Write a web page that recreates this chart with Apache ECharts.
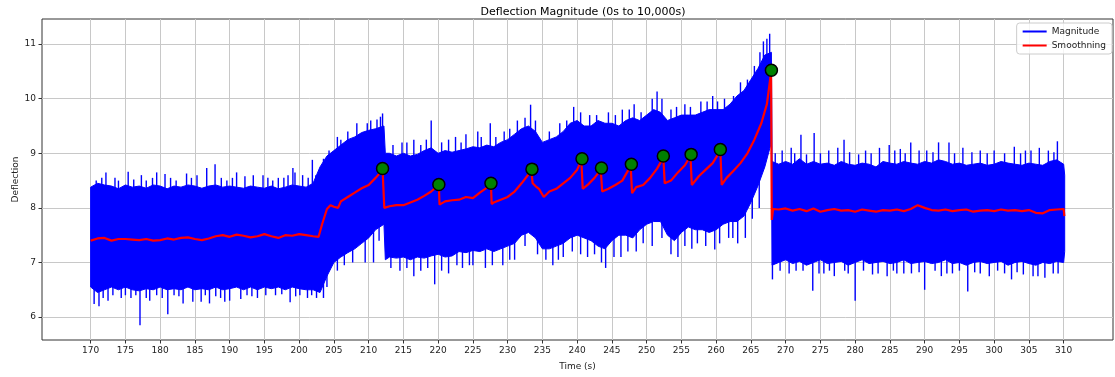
<!DOCTYPE html>
<html>
<head>
<meta charset="utf-8">
<title>Deflection Magnitude</title>
<script src="https://cdn.jsdelivr.net/npm/echarts@6/dist/echarts.min.js"></script>
<style>
  html, body { margin: 0; padding: 0; background: #fff; }
  #main { width: 1115px; height: 377px; }
</style>
</head>
<body>
<div id="main"></div>
<script>
// envelope of the raw magnitude signal (s / upper / lower)
var bandT = [170, 171, 172, 173, 174, 175, 176, 177, 178, 179, 180, 181, 182, 183, 184, 185, 186, 187, 188, 189,
  190, 191, 192, 193, 194, 195, 196, 197, 198, 199, 200, 201, 202, 203, 204, 205, 206, 207, 208, 209,
  210, 211, 212.2, 212.4, 213, 214, 215, 216, 217, 218, 219, 220, 221, 222, 223, 224, 225, 226, 227, 228,
  229, 230, 231, 232, 233, 234, 235, 236, 237, 238, 239, 240, 241, 242, 243, 244, 245, 246, 247, 248,
  249, 250, 251, 252, 253, 254, 255, 256, 257, 258, 259, 260, 261, 262, 263, 264, 265, 266, 267, 267.95,
  268.05, 269, 270, 271, 272, 273, 274, 275, 276, 277, 278, 279, 280, 281, 282, 283, 284, 285, 286, 287,
  288, 289, 290, 291, 292, 293, 294, 295, 296, 297, 298, 299, 300, 301, 302, 303, 304, 305, 306, 307,
  308, 309, 310, 310.15];
var bandHigh = [8.38, 8.45, 8.42, 8.40, 8.35, 8.42, 8.38, 8.40, 8.36, 8.42, 8.40, 8.35, 8.40, 8.38, 8.42, 8.40, 8.36, 8.40, 8.42, 8.38,
  8.40, 8.38, 8.36, 8.40, 8.38, 8.36, 8.40, 8.35, 8.38, 8.42, 8.40, 8.38, 8.45, 8.75, 8.95, 9.05, 9.15, 9.25, 9.30, 9.38,
  9.42, 9.45, 9.50, 9.00, 9.00, 8.95, 9.00, 8.95, 8.98, 9.05, 9.10, 9.00, 9.05, 9.02, 9.05, 9.08, 9.12, 9.10, 9.15, 9.12,
  9.20, 9.25, 9.35, 9.45, 9.50, 9.40, 9.20, 9.25, 9.30, 9.40, 9.55, 9.60, 9.50, 9.50, 9.60, 9.55, 9.55, 9.50, 9.60, 9.65,
  9.60, 9.70, 9.80, 9.75, 9.60, 9.65, 9.70, 9.70, 9.70, 9.75, 9.80, 9.80, 9.80, 9.90, 10.05, 10.15, 10.35, 10.55, 10.80, 10.85,
  8.85, 8.80, 8.85, 8.80, 8.90, 8.80, 8.85, 8.80, 8.82, 8.78, 8.85, 8.80, 8.78, 8.82, 8.80, 8.75, 8.85, 8.82, 8.80, 8.85,
  8.82, 8.80, 8.85, 8.82, 8.88, 8.85, 8.80, 8.82, 8.78, 8.80, 8.82, 8.78, 8.80, 8.85, 8.82, 8.80, 8.78, 8.82, 8.80, 8.78,
  8.85, 8.88, 8.80, 8.60];
var bandLow = [6.55, 6.45, 6.50, 6.55, 6.50, 6.55, 6.50, 6.48, 6.52, 6.50, 6.55, 6.50, 6.52, 6.50, 6.55, 6.50, 6.52, 6.50, 6.55, 6.50,
  6.52, 6.55, 6.50, 6.55, 6.50, 6.55, 6.52, 6.55, 6.50, 6.55, 6.52, 6.50, 6.50, 6.45, 6.75, 7.00, 7.10, 7.18, 7.25, 7.35,
  7.45, 7.60, 7.70, 7.05, 7.10, 7.08, 7.10, 7.05, 7.10, 7.08, 7.12, 7.15, 7.10, 7.12, 7.20, 7.18, 7.22, 7.20, 7.25, 7.20,
  7.25, 7.30, 7.35, 7.50, 7.55, 7.45, 7.25, 7.25, 7.30, 7.35, 7.45, 7.50, 7.45, 7.40, 7.30, 7.25, 7.40, 7.50, 7.50, 7.45,
  7.60, 7.70, 7.75, 7.75, 7.50, 7.40, 7.55, 7.65, 7.60, 7.60, 7.55, 7.60, 7.70, 7.75, 7.75, 7.85, 8.10, 8.40, 8.75, 9.20,
  6.95, 7.00, 7.05, 6.98, 7.02, 6.95, 7.00, 7.05, 6.98, 7.00, 7.02, 6.95, 7.00, 7.05, 6.98, 7.00, 7.02, 6.98, 7.00, 7.05,
  6.98, 7.00, 7.02, 6.98, 7.00, 7.05, 6.98, 7.00, 6.95, 7.00, 7.02, 6.98, 7.00, 7.02, 6.95, 7.00, 7.02, 6.98, 6.95, 7.00,
  6.98, 7.02, 7.00, 7.20];

// individual excursions of the raw signal above / below the envelope [time, value]
var spikesUp = [[170.8, 8.5], [171.6, 8.55], [172.2, 8.65], [173.5, 8.55], [174, 8.5], [175.4, 8.66], [176.2, 8.52],
  [177.3, 8.6], [178, 8.5], [178.9, 8.55], [179.5, 8.65], [180.7, 8.62], [181.5, 8.55], [182.3, 8.5], [183.8, 8.63],
  [184.5, 8.55], [185.3, 8.6], [186.7, 8.73], [187.9, 8.8], [188.8, 8.55], [189.6, 8.5], [190.4, 8.55], [191, 8.65],
  [192.2, 8.58], [193.4, 8.6], [194.8, 8.6], [195.5, 8.55], [196.2, 8.5], [197, 8.55], [197.8, 8.55], [198.4, 8.6],
  [199.1, 8.73], [199.4, 8.65], [200.5, 8.6], [201.3, 8.55], [201.9, 8.88], [202.4, 8.6],
  [203.5, 8.9], [204.3, 9.05], [205.5, 9.3], [206, 9.25], [207, 9.4], [208.3, 9.55], [209.8, 9.55], [210.3, 9.6],
  [211.2, 9.62], [211.7, 9.67], [212.0, 9.73], [213.5, 9.15], [214.8, 9.2], [215.5, 9.2], [216.5, 9.25], [217.5, 9.15],
  [218.3, 9.25], [219, 9.6], [220.5, 9.2], [221.5, 9.25], [222.5, 9.3], [223.3, 9.2], [224, 9.35], [225.7, 9.4],
  [226.2, 9.3], [227.5, 9.55], [228.3, 9.3], [229.5, 9.4], [230.3, 9.45], [231.4, 9.6], [232.5, 9.65], [233.3, 9.89],
  [234, 9.6], [236, 9.4], [237.5, 9.55], [238.5, 9.6], [239.5, 9.85], [240.5, 9.75], [241.8, 9.7], [242.8, 9.7],
  [244.5, 9.75], [245.5, 9.7], [246.5, 9.8], [247.5, 9.8], [248.2, 9.9], [249.2, 9.75], [250.8, 10.0], [251.5, 10.13],
  [252.2, 10.0], [253.5, 9.8], [254.3, 9.85], [255.5, 9.9], [256.3, 9.85], [257.8, 9.95], [258.7, 9.95], [259.5, 10.05],
  [260.2, 9.95], [261.2, 10.0], [262.5, 10.05], [263.5, 10.3], [264.5, 10.35], [265.5, 10.6], [266.3, 10.85],
  [266.8, 11.05], [267.3, 11.1], [267.7, 11.19],
  [268.5, 9.0], [269.5, 9.05], [270.8, 9.1], [271.3, 9.0], [272.2, 9.34], [273, 8.98], [274.1, 9.37], [275, 9.0],
  [276.2, 9.05], [277.5, 9.1], [278.4, 9.25], [279.2, 9.02], [280.5, 8.98], [281.5, 9.05], [282.3, 9.0], [283.5, 9.1],
  [284.9, 9.15], [285.7, 9.05], [286.5, 9.08], [287.2, 9.0], [288, 9.2], [289.2, 9.05], [290.3, 9.05], [291.2, 9.02],
  [292, 9.2], [293.5, 9.2], [294.3, 9.0], [295.5, 9.1], [296.8, 9.02], [298, 9.05], [299, 9.0], [300, 9.05],
  [301.5, 9.0], [302.9, 9.12], [303.8, 9.0], [304.5, 9.05], [305.3, 9.05], [306.5, 9.1], [307.8, 9.05], [308.6, 9.02],
  [309.1, 9.22]];
var spikesDown = [[170.5, 6.24], [171.2, 6.2], [171.8, 6.35], [172.5, 6.3], [173.2, 6.4], [174.4, 6.35], [175, 6.4],
  [175.8, 6.35], [176.5, 6.4], [177.1, 5.85], [178, 6.35], [178.5, 6.3], [179.5, 6.4], [180.3, 6.35], [181.1, 6.05],
  [182, 6.4], [182.7, 6.38], [183.3, 6.25], [184.7, 6.28], [185.9, 6.28], [186.5, 6.4], [187.1, 6.25], [188, 6.38],
  [188.7, 6.35], [189.3, 6.28], [190.0, 6.3], [191.6, 6.33], [192.5, 6.4], [193.2, 6.38], [194, 6.35], [195.2, 6.4],
  [196.6, 6.4], [197.5, 6.42], [198.7, 6.27], [199.5, 6.38], [200.1, 6.4], [201.2, 6.35], [201.8, 6.4], [202.5, 6.35],
  [203.5, 6.35], [204, 6.55], [205.5, 6.85], [206.5, 6.95], [207.7, 7.0], [209.5, 7.0], [210.7, 7.0], [211.5, 7.4],
  [213.2, 6.9], [214.5, 6.85], [215.5, 6.9], [216.5, 6.75], [217.5, 6.85], [218.5, 6.9], [219.5, 6.6], [220.5, 6.85],
  [221.5, 6.8], [222.7, 6.95], [223.5, 6.9], [224.5, 6.95], [225, 6.95], [226.8, 6.9], [227.8, 6.95], [229.3, 6.95],
  [230.3, 7.05], [231, 7.05], [232.5, 7.3], [234.3, 7.15], [235.5, 7.05], [236.5, 6.95], [237.3, 7.05], [238, 7.1],
  [239.3, 7.2], [240.5, 7.15], [241.5, 7.1], [242.5, 7.15], [243.5, 7.0], [244.1, 6.9], [245.3, 7.1], [246.3, 7.1],
  [247.3, 7.2], [248.5, 7.2], [249.5, 7.35], [250.8, 7.3], [252.2, 7.45], [253.5, 7.15], [254.5, 7.1], [255.5, 7.3],
  [256.5, 7.25], [257.3, 7.35], [258.5, 7.3], [259.8, 7.24], [260.5, 7.35], [261.8, 7.45], [262.4, 7.45], [263.1, 7.35],
  [264.2, 7.45], [265.2, 7.8], [266.2, 8.0],
  [268.1, 6.69], [269.2, 6.85], [270.5, 6.8], [271.5, 6.85], [272.5, 6.85], [273.9, 6.48], [274.8, 6.8], [275.5, 6.8],
  [276.3, 6.85], [277, 6.75], [278.5, 6.85], [279, 6.8], [280.0, 6.3], [281.2, 6.85], [282.5, 6.78], [283.3, 6.8],
  [284.6, 6.75], [285.5, 6.85], [286, 6.8], [287, 6.8], [288.1, 6.8], [289.2, 6.82], [290.0, 6.5], [291.5, 6.85],
  [292.4, 6.75], [293.2, 6.8], [294, 6.8], [295, 6.85], [296.2, 6.47], [297.2, 6.82], [298, 6.8], [299.3, 6.75],
  [300.5, 6.85], [301.5, 6.8], [302.5, 6.69], [303.3, 6.82], [304.2, 6.78], [305.6, 6.75], [306.3, 6.75], [307.3, 6.72],
  [308.5, 6.8], [309.2, 6.8]];

// smoothed curve
var smoothT = [170, 171, 172, 173, 174, 175, 176, 177, 178, 179, 180, 181, 182, 183, 184, 185, 186, 187, 188, 189,
  190, 191, 192, 193, 194, 195, 196, 197, 198, 199, 200, 201, 202, 202.8, 203.3, 204, 204.5, 205, 205.6, 206,
  207, 208, 209, 210, 211, 211.7, 212.0, 212.2, 212.25, 213, 214, 215, 216, 217, 218, 219, 220.1, 220.2, 221, 222,
  223, 224, 225, 226, 227.6, 227.7, 228, 229, 230, 231, 232, 233.4, 233.6, 234, 234.5, 235.2, 236, 237, 238, 239,
  240, 240.6, 240.8, 241.5, 242.5, 243.4, 243.6, 244.5, 245.5, 246.5, 247.7, 247.9, 248.5, 249.5, 250.5, 251.5, 252.4, 252.6, 253.5, 254.5,
  255.5, 256.3, 256.5, 257.5, 258.5, 259.5, 260.6, 260.8, 261.5, 262.5, 263.5, 264.5, 265.5, 266.5, 267.3, 267.9, 268.0, 268.2, 269, 270,
  271, 272, 273, 274, 275, 276, 277, 278, 279, 280, 281, 282, 283, 284, 285, 286, 287, 288, 289, 290,
  291, 292, 293, 294, 295, 296, 297, 298, 299, 300, 301, 302, 303, 304, 305, 306, 307, 308, 309, 310, 310.1];
var smoothV = [7.40, 7.44, 7.45, 7.40, 7.43, 7.43, 7.42, 7.41, 7.43, 7.40, 7.41, 7.44, 7.42, 7.45, 7.46, 7.43, 7.41, 7.44, 7.48, 7.50,
  7.47, 7.51, 7.49, 7.46, 7.48, 7.52, 7.48, 7.45, 7.50, 7.49, 7.52, 7.50, 7.48, 7.47, 7.70, 7.98, 8.05, 8.02, 8.00, 8.12,
  8.20, 8.28, 8.36, 8.42, 8.55, 8.65, 8.72, 8.72, 8.00, 8.03, 8.05, 8.05, 8.10, 8.15, 8.22, 8.30, 8.42, 8.06, 8.12, 8.14,
  8.15, 8.20, 8.18, 8.28, 8.42, 8.07, 8.10, 8.15, 8.20, 8.30, 8.45, 8.68, 8.45, 8.40, 8.35, 8.20, 8.30, 8.35, 8.45, 8.55,
  8.70, 8.87, 8.35, 8.42, 8.55, 8.70, 8.30, 8.35, 8.42, 8.50, 8.77, 8.27, 8.38, 8.42, 8.55, 8.72, 8.92, 8.45, 8.50, 8.65,
  8.78, 8.95, 8.42, 8.58, 8.70, 8.82, 9.05, 8.42, 8.55, 8.68, 8.82, 9.00, 9.25, 9.55, 9.90, 10.48, 7.78, 7.98, 7.97, 7.99,
  7.95, 7.98, 7.94, 7.99, 7.93, 7.96, 7.98, 7.95, 7.96, 7.93, 7.97, 7.95, 7.93, 7.96, 7.95, 7.97, 7.94, 7.98, 8.05, 8.00,
  7.96, 7.95, 7.97, 7.94, 7.96, 7.97, 7.93, 7.95, 7.96, 7.94, 7.97, 7.95, 7.96, 7.94, 7.96, 7.91, 7.90, 7.96, 7.97, 7.98, 7.85];

// detected peaks
var peakT = [212.0, 220.1, 227.6, 233.5, 240.7, 243.5, 247.8, 252.4, 256.4, 260.6, 267.95];
var peakV = [8.72, 8.43, 8.45, 8.71, 8.90, 8.73, 8.80, 8.95, 8.98, 9.07, 10.52];

var xTicks = [170, 175, 180, 185, 190, 195, 200, 205, 210, 215, 220, 225, 230, 235, 240, 245, 250, 255, 260, 265,
  270, 275, 280, 285, 290, 295, 300, 305, 310];
var yTicks = [6, 7, 8, 9, 10, 11];

var smoothData = smoothT.map(function (t, i) { return [t, smoothV[i]]; });
var peakData = peakT.map(function (t, i) { return [t, peakV[i]]; });

function nearestIdx(t) {
  var best = 0;
  for (var i = 1; i < bandT.length; i++) {
    if (Math.abs(bandT[i] - t) < Math.abs(bandT[best] - t)) best = i;
  }
  return best;
}

var chart = echarts.init(document.getElementById('main'));
var font = 'DejaVu Sans';
var option = {
  animation: false,
  textStyle: { fontFamily: font },
  title: {
    text: 'Deflection Magnitude (0s to 10,000s)',
    left: 578,
    textAlign: 'center',
    top: 2,
    textStyle: { fontFamily: font, fontSize: 11, fontWeight: 'normal', color: '#000' }
  },
  legend: {
    orient: 'vertical',
    right: 3,
    top: 23,
    padding: [4, 6, 4, 6],
    itemGap: 5,
    itemWidth: 24,
    itemHeight: 2,
    borderColor: '#ccc',
    borderWidth: 1,
    borderRadius: 3,
    backgroundColor: 'rgba(255,255,255,0.8)',
    textStyle: { fontFamily: font, fontSize: 9, color: '#222' },
    data: [
      { name: 'Magnitude', icon: 'rect', itemStyle: { color: '#0000ff' } },
      { name: 'Smoothning', icon: 'rect', itemStyle: { color: '#ff0000' } }
    ]
  },
  grid: {
    left: 42,
    right: 2,
    top: 19,
    bottom: 37,
    containLabel: false,
    outerBoundsMode: 'none',
    show: true,
    borderColor: '#333',
    borderWidth: 1
  },
  xAxis: {
    type: 'value',
    min: 163,
    max: 317.1,
    name: 'Time (s)',
    nameLocation: 'middle',
    nameGap: 22,
    nameMoveOverlap: false,
    nameTextStyle: { fontFamily: font, fontSize: 9, color: '#222' },
    axisLine: { show: false },
    axisTick: { show: true, length: 3.5, customValues: xTicks, lineStyle: { color: '#333' } },
    axisLabel: { customValues: xTicks, margin: 6, fontSize: 9, color: '#222', fontFamily: font },
    splitLine: { show: true, lineStyle: { color: '#c8c8c8', width: 1 } }
  },
  yAxis: {
    type: 'value',
    min: 5.58,
    max: 11.46,
    name: 'Deflection',
    nameLocation: 'middle',
    nameGap: 22,
    nameMoveOverlap: false,
    nameTextStyle: { fontFamily: font, fontSize: 9, color: '#222' },
    axisLine: { show: false },
    axisTick: { show: true, length: 3.5, customValues: yTicks, lineStyle: { color: '#333' } },
    axisLabel: { customValues: yTicks, margin: 6, fontSize: 9, color: '#222', fontFamily: font },
    splitLine: { show: true, lineStyle: { color: '#c8c8c8', width: 1 } }
  },
  series: [{
    name: 'Magnitude',
    type: 'custom',
    silent: true,
    itemStyle: { color: '#0000ff' },
    data: [[bandT[0], bandHigh[0]]],
    renderItem: function (params, api) {
      var pts = [];
      var i;
      for (i = 0; i < bandT.length; i++) pts.push(api.coord([bandT[i], bandHigh[i]]));
      for (i = bandT.length - 1; i >= 0; i--) pts.push(api.coord([bandT[i], bandLow[i]]));
      var children = [{
        type: 'polygon',
        shape: { points: pts },
        style: { fill: '#0000ff', stroke: '#0000ff', lineWidth: 1 }
      }];
      spikesUp.concat(spikesDown).forEach(function (s) {
        var k = nearestIdx(s[0]);
        var a = api.coord([s[0], (bandHigh[k] + bandLow[k]) / 2]);
        var b = api.coord([s[0], s[1]]);
        children.push({
          type: 'line',
          shape: { x1: a[0], y1: a[1], x2: b[0], y2: b[1] },
          style: { stroke: '#0000ff', lineWidth: 1.4 }
        });
      });
      return { type: 'group', children: children };
    },
    z: 2
  }, {
    name: 'Smoothning',
    type: 'line',
    data: smoothData,
    symbol: 'none',
    lineStyle: { color: '#ff0000', width: 2.2 },
    itemStyle: { color: '#ff0000' },
    z: 3
  }, {
    name: 'Peaks',
    type: 'scatter',
    data: peakData,
    symbolSize: 12,
    itemStyle: { color: '#008000', borderColor: '#000', borderWidth: 1.5, opacity: 1 },
    z: 4
  }]
};
chart.setOption(option);

window.addEventListener('resize', function () {
  chart.resize();
});
</script>
</body>
</html>
